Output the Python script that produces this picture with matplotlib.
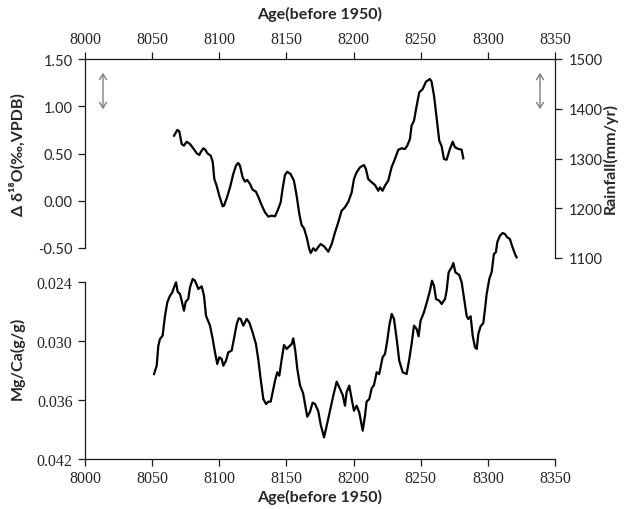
import matplotlib
matplotlib.use("Agg")
import matplotlib.pyplot as plt
from matplotlib import font_manager as fm

# ---- data ----
d18o_age = [8066.3, 8068.7, 8070.2, 8072.0, 8073.7, 8075.7, 8078.2, 8080.6, 8083.2, 8085.1,
            8086.1, 8088.1, 8089.6, 8091.1, 8093.6, 8095.1, 8096.3, 8098.0, 8100.0, 8102.5,
            8103.5, 8105.5, 8108.0, 8110.4, 8112.4, 8114.1, 8115.4, 8117.4, 8119.1, 8120.8,
            8122.9, 8124.8, 8127.3, 8129.0, 8131.5, 8134.0, 8136.5, 8139.0, 8141.5, 8143.9,
            8145.7, 8147.2, 8148.9, 8150.6, 8153.1, 8155.6, 8157.6, 8159.6, 8161.3, 8163.1,
            8165.1, 8167.0, 8168.1, 8170.0, 8171.8, 8173.5, 8175.5, 8178.0, 8181.2, 8183.7,
            8186.2, 8188.6, 8191.1, 8193.6, 8196.1, 8198.6, 8200.3, 8202.3, 8204.8, 8207.7,
            8209.2, 8210.9, 8213.5, 8215.9, 8218.4, 8219.7, 8221.6, 8223.4, 8225.8, 8228.3,
            8230.8, 8233.3, 8235.8, 8238.3, 8240.0, 8242.0, 8243.2, 8245.0, 8247.0, 8248.9,
            8251.4, 8253.9, 8256.9, 8258.1, 8259.9, 8261.8, 8263.8, 8265.6, 8267.3, 8269.3,
            8271.3, 8273.8, 8275.5, 8278.0, 8280.5, 8281.7]
d18o_val = [0.688, 0.749, 0.735, 0.600, 0.583, 0.625, 0.600, 0.555, 0.502, 0.484,
            0.513, 0.555, 0.540, 0.502, 0.477, 0.413, 0.230, 0.160, 0.053, -0.059,
            -0.052, 0.026, 0.142, 0.283, 0.371, 0.400, 0.371, 0.248, 0.202, 0.220,
            0.177, 0.117, 0.096, 0.043, -0.045, -0.122, -0.168, -0.158, -0.165, -0.087,
            -0.017, 0.132, 0.272, 0.307, 0.283, 0.212, 0.053, -0.140, -0.257, -0.292,
            -0.387, -0.510, -0.553, -0.503, -0.530, -0.493, -0.458, -0.482, -0.539, -0.458,
            -0.334, -0.228, -0.105, -0.069, -0.010, 0.089, 0.230, 0.301, 0.354, 0.378,
            0.336, 0.230, 0.195, 0.167, 0.106, 0.142, 0.106, 0.160, 0.212, 0.354,
            0.442, 0.540, 0.555, 0.548, 0.583, 0.654, 0.795, 0.847, 1.006, 1.147,
            1.180, 1.260, 1.288, 1.260, 1.112, 0.883, 0.636, 0.576, 0.442, 0.434,
            0.530, 0.625, 0.566, 0.548, 0.540, 0.449]

mgca_age = [8051.4, 8053.4, 8054.6, 8055.8, 8057.8, 8059.6, 8061.3, 8063.3, 8064.8, 8066.3,
            8067.8, 8069.0, 8070.7, 8072.0, 8073.7, 8075.0, 8076.9, 8078.2, 8080.2, 8081.9,
            8084.4, 8086.9, 8088.6, 8090.1, 8093.1, 8095.1, 8096.8, 8098.5, 8100.0, 8101.8,
            8103.0, 8105.0, 8106.7, 8109.2, 8110.9, 8113.0, 8114.5, 8115.9, 8117.9, 8120.4,
            8122.3, 8124.8, 8127.3, 8129.0, 8130.8, 8132.8, 8134.8, 8136.5, 8138.3, 8139.7,
            8141.5, 8143.2, 8144.7, 8146.5, 8148.2, 8150.2, 8152.1, 8153.9, 8155.1, 8156.6,
            8158.1, 8160.1, 8162.4, 8165.5, 8167.5, 8169.5, 8171.3, 8173.7, 8175.5, 8178.0,
            8180.0, 8182.4, 8184.9, 8187.4, 8189.4, 8191.9, 8193.6, 8194.8, 8196.8, 8198.6,
            8200.3, 8202.3, 8204.2, 8206.8, 8208.5, 8209.7, 8211.7, 8213.5, 8215.2, 8217.2,
            8219.1, 8221.6, 8223.4, 8225.1, 8226.6, 8228.4, 8230.1, 8232.1, 8234.0, 8236.6,
            8239.5, 8241.5, 8243.2, 8245.0, 8247.0, 8248.4, 8249.9, 8252.4, 8254.9, 8256.9,
            8258.4, 8259.9, 8261.4, 8263.8, 8265.6, 8268.1, 8269.3, 8270.8, 8273.1, 8274.3,
            8275.8, 8278.7, 8280.5, 8282.2, 8284.2, 8285.4, 8287.2, 8288.7, 8290.4, 8291.7,
            8292.9, 8294.6, 8296.6, 8297.9, 8299.1, 8301.1, 8302.9, 8304.5, 8306.0, 8307.0,
            8309.0, 8311.0, 8312.7, 8314.4, 8316.4, 8318.4, 8320.2, 8321.4]
mgca_val = [0.03336, 0.03250, 0.03050, 0.02980, 0.02946, 0.02743, 0.02607, 0.02539, 0.02512, 0.02454,
            0.02403, 0.02499, 0.02522, 0.02590, 0.02692, 0.02600, 0.02573, 0.02454, 0.02369, 0.02387,
            0.02471, 0.02444, 0.02539, 0.02743, 0.02844, 0.02980, 0.03115, 0.03234, 0.03166, 0.03183,
            0.03251, 0.03200, 0.03115, 0.03098, 0.02980, 0.02827, 0.02769, 0.02776, 0.02844, 0.02776,
            0.02810, 0.02912, 0.03031, 0.03183, 0.03386, 0.03590, 0.03641, 0.03617, 0.03617, 0.03522,
            0.03404, 0.03318, 0.03353, 0.03183, 0.03041, 0.03081, 0.03054, 0.03031, 0.02973, 0.03098,
            0.03285, 0.03450, 0.03530, 0.03770, 0.03722, 0.03627, 0.03641, 0.03714, 0.03850, 0.03980,
            0.03861, 0.03709, 0.03556, 0.03414, 0.03471, 0.03549, 0.03658, 0.03522, 0.03454, 0.03590,
            0.03709, 0.03658, 0.03725, 0.03912, 0.03760, 0.03617, 0.03590, 0.03481, 0.03448, 0.03318,
            0.03336, 0.03166, 0.03132, 0.02997, 0.02844, 0.02725, 0.02776, 0.02980, 0.03200, 0.03318,
            0.03336, 0.03183, 0.03031, 0.02844, 0.02878, 0.02952, 0.02793, 0.02708, 0.02590, 0.02488,
            0.02387, 0.02438, 0.02573, 0.02590, 0.02624, 0.02573, 0.02488, 0.02301, 0.02250, 0.02207,
            0.02301, 0.02329, 0.02403, 0.02556, 0.02743, 0.02776, 0.02749, 0.02946, 0.03064, 0.03081,
            0.02929, 0.02851, 0.02817, 0.02675, 0.02522, 0.02369, 0.02295, 0.02115, 0.02098, 0.01996,
            0.01929, 0.01902, 0.01912, 0.01945, 0.01963, 0.02047, 0.02115, 0.02149]

age_ticks = [8000, 8050, 8100, 8150, 8200, 8250, 8300, 8350]
d18o_ticks = [-0.50, 0.00, 0.50, 1.00, 1.50]
rain_ticks = [1100, 1200, 1300, 1400, 1500]
mgca_ticks = [0.024, 0.030, 0.036, 0.042]

W, H = 625, 510
TXT = '#262626'
SERIF_FP = fm.FontProperties(family=['Liberation Serif', 'DejaVu Serif'], size=11.5)
SANS_FP = fm.FontProperties(family=['Lato', 'DejaVu Sans'], size=10.5)
SANS_BOLD = dict(family=['Lato', 'DejaVu Sans'], fontsize=11.5, fontweight='bold', color=TXT)

def box(x0, y0, x1, y1):
    return [x0 / W, 1 - y1 / H, (x1 - x0) / W, (y1 - y0) / H]

def set_font(labels, fp):
    for lab in labels:
        lab.set_fontproperties(fp)
        lab.set_color(TXT)

fig = plt.figure(figsize=(W / 100, H / 100), dpi=100)

ax_top = fig.add_axes(box(85, 60, 555, 249))
ax_rain = fig.add_axes(box(85, 60, 555, 259))
ax_bot = fig.add_axes(box(85, 283, 555, 460))

spine_c = '#1a1a1a'
tick_kw = dict(length=5, width=0.9, color=spine_c, direction='out')

# --- top panel ---
ax_top.plot(d18o_age, d18o_val, color='black', lw=1.6, clip_on=False, solid_joinstyle='round')
ax_top.set_xlim(8000, 8350)
ax_top.set_ylim(-0.5, 1.5)
for s in ['bottom', 'right']:
    ax_top.spines[s].set_visible(False)
for s in ['top', 'left']:
    ax_top.spines[s].set_color(spine_c)
    ax_top.spines[s].set_linewidth(0.9)
ax_top.xaxis.tick_top()
ax_top.set_xticks(age_ticks, [str(t) for t in age_ticks])
ax_top.set_yticks(d18o_ticks, [f'{t:.2f}' for t in d18o_ticks])
ax_top.tick_params(axis='both', **tick_kw)
ax_top.tick_params(axis='x', pad=4)
ax_top.tick_params(axis='y', pad=4)
set_font(ax_top.get_xticklabels(), SERIF_FP)
set_font(ax_top.get_yticklabels(), SANS_FP)
ax_top.patch.set_visible(False)

# --- rainfall axis (right) ---
ax_rain.set_ylim(1100, 1500)
ax_rain.set_xlim(8000, 8350)
ax_rain.patch.set_visible(False)
for s in ['top', 'bottom', 'left']:
    ax_rain.spines[s].set_visible(False)
ax_rain.spines['right'].set_color(spine_c)
ax_rain.spines['right'].set_linewidth(0.9)
ax_rain.set_xticks([])
ax_rain.yaxis.tick_right()
ax_rain.set_yticks(rain_ticks, [str(t) for t in rain_ticks])
ax_rain.tick_params(axis='y', **tick_kw)
ax_rain.tick_params(axis='y', pad=5)
set_font(ax_rain.get_yticklabels(), SANS_FP)

# --- bottom panel ---
ax_bot.plot(mgca_age, mgca_val, color='black', lw=1.6, clip_on=False, solid_joinstyle='round')
ax_bot.set_xlim(8000, 8350)
ax_bot.set_ylim(0.042, 0.024)
for s in ['top', 'right']:
    ax_bot.spines[s].set_visible(False)
for s in ['bottom', 'left']:
    ax_bot.spines[s].set_color(spine_c)
    ax_bot.spines[s].set_linewidth(0.9)
ax_bot.set_xticks(age_ticks, [str(t) for t in age_ticks])
ax_bot.set_yticks(mgca_ticks, [f'{t:.3f}' for t in mgca_ticks])
ax_bot.tick_params(axis='both', **tick_kw)
ax_bot.tick_params(axis='x', pad=3)
ax_bot.tick_params(axis='y', pad=4)
set_font(ax_bot.get_xticklabels(), SERIF_FP)
set_font(ax_bot.get_yticklabels(), SERIF_FP)
ax_bot.patch.set_visible(False)

# axis titles placed in figure coordinates
fig.text(320 / W, 1 - 14 / H, 'Age(before 1950)', ha='center', va='center', **SANS_BOLD)
fig.text(320 / W, 1 - 497 / H, 'Age(before 1950)', ha='center', va='center', **SANS_BOLD)
fig.text(17 / W, 1 - 155 / H, 'Δ δ¹⁸O(‰,VPDB)', rotation=90, ha='center', va='center',
         family=['Lato', 'DejaVu Sans'], fontsize=11.5, fontweight='bold', color=TXT)
fig.text(17 / W, 1 - 358 / H, 'Mg/Ca(g/g)', rotation=90, ha='center', va='center', **SANS_BOLD)
fig.text(610 / W, 1 - 158 / H, 'Rainfall(mm/yr)', rotation=90, ha='center', va='center', **SANS_BOLD)

# gray double-headed arrows
for xp in (103, 540):
    fig.add_artist(matplotlib.patches.FancyArrowPatch(
        (xp / W, 1 - 71 / H), (xp / W, 1 - 113 / H), transform=fig.transFigure,
        arrowstyle='<->,head_length=4,head_width=2.5', color='#7f7f7f', lw=1.0))

fig.savefig('out.png', dpi=100)
